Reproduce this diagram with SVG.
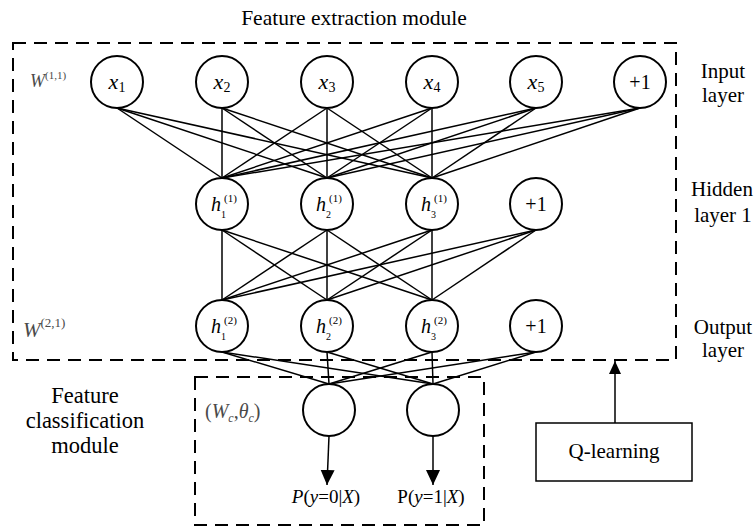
<svg xmlns="http://www.w3.org/2000/svg" width="756" height="527" viewBox="0 0 756 527" font-family="'Liberation Serif', 'DejaVu Serif', serif">
  <defs>
    <style>
      text { font-family: "Liberation Serif", "DejaVu Serif", serif; }
      .it { font-style: italic; }
      .w { fill: #4a4a4a; font-style: italic; }
      .gray { fill: #4a4a4a; }
      .node circle { fill: #fff; stroke: #000; stroke-width: 2; }
      .edges line { stroke: #000; stroke-width: 1.5; }
      .module { fill: none; stroke: #000; stroke-width: 2; stroke-dasharray: 13 8; }
      .layer-label { font-size: 21px; text-anchor: middle; }
      .side-label { font-size: 22.5px; text-anchor: middle; }
      .arrow { stroke: #000; stroke-width: 2; fill: none; }
    </style>
    <marker id="head" markerUnits="userSpaceOnUse" markerWidth="16" markerHeight="16" refX="15" refY="7" orient="auto">
      <path d="M0,0 L15,7 L0,14 z" fill="#000"/>
    </marker>
    <marker id="head-small" markerUnits="userSpaceOnUse" markerWidth="14" markerHeight="12" refX="13" refY="6" orient="auto">
      <path d="M0,0 L13,6 L0,12 z" fill="#000"/>
    </marker>
  </defs>

  <rect width="756" height="527" fill="#fff"/>

  <!-- module frames -->
  <rect id="feature-extraction-module" class="module" x="13" y="43" width="663" height="317"/>
  <rect id="feature-classification-module" class="module" x="195" y="377" width="289" height="148" stroke-dasharray="11 7"/>

  <!-- captions -->
  <text x="354" y="25" font-size="21.5" text-anchor="middle">Feature extraction module</text>
  <text class="layer-label" x="723" y="78">Input</text>
  <text class="layer-label" x="723" y="102">layer</text>
  <text class="layer-label" x="722" y="196">Hidden</text>
  <text class="layer-label" x="723" y="222">layer 1</text>
  <text class="layer-label" x="723" y="334">Output</text>
  <text class="layer-label" x="723" y="357">layer</text>
  <text class="side-label" x="85" y="403">Feature</text>
  <text class="side-label" x="85" y="428">classification</text>
  <text class="side-label" x="85" y="453">module</text>

  <!-- weight annotations -->
  <text x="30" y="87" font-size="18" class="w">W<tspan font-size="11" font-style="normal" dy="-8">(1,1)</tspan></text>
  <text x="23" y="337" font-size="21" class="w">W<tspan font-size="13" font-style="normal" dy="-10">(2,1)</tspan></text>
  <text x="205" y="418" font-size="20" class="gray">(<tspan class="it">W</tspan><tspan class="it" font-size="12" dy="4">c</tspan><tspan dy="-4">,</tspan><tspan class="it">θ</tspan><tspan class="it" font-size="12" dy="4">c</tspan><tspan dy="-4">)</tspan></text>

  <!-- connectors -->
  <g id="connectors" class="edges">
    <!-- input layer to hidden layer 1 -->
    <line x1="117" y1="108" x2="222" y2="178"/>
    <line x1="117" y1="108" x2="327" y2="178"/>
    <line x1="117" y1="108" x2="432" y2="178"/>
    <line x1="222" y1="108" x2="222" y2="178"/>
    <line x1="222" y1="108" x2="327" y2="178"/>
    <line x1="222" y1="108" x2="432" y2="178"/>
    <line x1="327" y1="108" x2="222" y2="178"/>
    <line x1="327" y1="108" x2="327" y2="178"/>
    <line x1="327" y1="108" x2="432" y2="178"/>
    <line x1="432" y1="108" x2="222" y2="178"/>
    <line x1="432" y1="108" x2="327" y2="178"/>
    <line x1="432" y1="108" x2="432" y2="178"/>
    <line x1="536" y1="108" x2="222" y2="178"/>
    <line x1="536" y1="108" x2="327" y2="178"/>
    <line x1="536" y1="108" x2="432" y2="178"/>
    <line x1="640" y1="108" x2="222" y2="178"/>
    <line x1="640" y1="108" x2="327" y2="178"/>
    <line x1="640" y1="108" x2="432" y2="178"/>
    <!-- hidden layer 1 to output layer -->
    <line x1="222" y1="230" x2="222" y2="300"/>
    <line x1="222" y1="230" x2="327" y2="300"/>
    <line x1="222" y1="230" x2="432" y2="300"/>
    <line x1="327" y1="230" x2="222" y2="300"/>
    <line x1="327" y1="230" x2="327" y2="300"/>
    <line x1="327" y1="230" x2="432" y2="300"/>
    <line x1="432" y1="230" x2="222" y2="300"/>
    <line x1="432" y1="230" x2="327" y2="300"/>
    <line x1="432" y1="230" x2="432" y2="300"/>
    <line x1="536" y1="230" x2="222" y2="300"/>
    <line x1="536" y1="230" x2="327" y2="300"/>
    <line x1="536" y1="230" x2="432" y2="300"/>
    <!-- output layer to classifier -->
    <line x1="222" y1="352" x2="329" y2="384"/>
    <line x1="222" y1="352" x2="433" y2="384"/>
    <line x1="327" y1="352" x2="329" y2="384"/>
    <line x1="327" y1="352" x2="433" y2="384"/>
    <line x1="432" y1="352" x2="329" y2="384"/>
    <line x1="432" y1="352" x2="433" y2="384"/>
    <line x1="536" y1="352" x2="329" y2="384"/>
    <line x1="536" y1="352" x2="433" y2="384"/>
    <!-- classifier outputs and feedback -->
    <line class="arrow" x1="329" y1="436" x2="327" y2="485" marker-end="url(#head)"/>
    <line class="arrow" x1="433" y1="436" x2="433" y2="485" marker-end="url(#head)"/>
    <line class="arrow" x1="615" y1="423" x2="615" y2="361" marker-end="url(#head-small)"/>
  </g>

  <!-- input layer -->
  <g id="x1" class="node"><circle cx="117" cy="82" r="26"/><text x="117" y="89" font-size="22" text-anchor="middle"><tspan class="it">x</tspan><tspan font-size="14" dy="3">1</tspan></text></g>
  <g id="x2" class="node"><circle cx="222" cy="82" r="26"/><text x="222" y="89" font-size="22" text-anchor="middle"><tspan class="it">x</tspan><tspan font-size="14" dy="3">2</tspan></text></g>
  <g id="x3" class="node"><circle cx="327" cy="82" r="26"/><text x="327" y="89" font-size="22" text-anchor="middle"><tspan class="it">x</tspan><tspan font-size="14" dy="3">3</tspan></text></g>
  <g id="x4" class="node"><circle cx="432" cy="82" r="26"/><text x="432" y="89" font-size="22" text-anchor="middle"><tspan class="it">x</tspan><tspan font-size="14" dy="3">4</tspan></text></g>
  <g id="x5" class="node"><circle cx="536" cy="82" r="26"/><text x="536" y="89" font-size="22" text-anchor="middle"><tspan class="it">x</tspan><tspan font-size="14" dy="3">5</tspan></text></g>
  <g id="bias-input" class="node"><circle cx="640" cy="82" r="26"/><text x="640" y="89" text-anchor="middle" font-size="20">+1</text></g>

  <!-- hidden layer 1 -->
  <g id="h1-1" class="node"><circle cx="222" cy="204" r="26"/><text x="211" y="211" class="it" font-size="20">h</text><text x="224" y="202" font-size="11">(1)</text><text x="221" y="218" font-size="10">1</text></g>
  <g id="h1-2" class="node"><circle cx="327" cy="204" r="26"/><text x="316" y="211" class="it" font-size="20">h</text><text x="329" y="202" font-size="11">(1)</text><text x="326" y="218" font-size="10">2</text></g>
  <g id="h1-3" class="node"><circle cx="432" cy="204" r="26"/><text x="421" y="211" class="it" font-size="20">h</text><text x="434" y="202" font-size="11">(1)</text><text x="431" y="218" font-size="10">3</text></g>
  <g id="bias-hidden" class="node"><circle cx="536" cy="204" r="26"/><text x="536" y="211" text-anchor="middle" font-size="20">+1</text></g>

  <!-- output layer -->
  <g id="h2-1" class="node"><circle cx="222" cy="326" r="26"/><text x="211" y="333" class="it" font-size="20">h</text><text x="224" y="324" font-size="11">(2)</text><text x="221" y="340" font-size="10">1</text></g>
  <g id="h2-2" class="node"><circle cx="327" cy="326" r="26"/><text x="316" y="333" class="it" font-size="20">h</text><text x="329" y="324" font-size="11">(2)</text><text x="326" y="340" font-size="10">2</text></g>
  <g id="h2-3" class="node"><circle cx="432" cy="326" r="26"/><text x="421" y="333" class="it" font-size="20">h</text><text x="434" y="324" font-size="11">(2)</text><text x="431" y="340" font-size="10">3</text></g>
  <g id="bias-output" class="node"><circle cx="536" cy="326" r="26"/><text x="536" y="333" text-anchor="middle" font-size="20">+1</text></g>

  <!-- classifier units -->
  <g id="class-0" class="node"><circle cx="329" cy="410" r="26"/><text x="326" y="503" font-size="19" text-anchor="middle"><tspan class="it">P</tspan>(<tspan class="it">y</tspan>=0|<tspan class="it">X</tspan>)</text></g>
  <g id="class-1" class="node"><circle cx="433" cy="410" r="26"/><text x="431" y="503" font-size="19" text-anchor="middle">P(<tspan class="it">y</tspan>=1|<tspan class="it">X</tspan>)</text></g>

  <!-- reinforcement learner -->
  <g id="q-learning">
    <rect x="536" y="423" width="156" height="58" fill="#fff" stroke="#000" stroke-width="1.5"/>
    <text x="614" y="458" font-size="21" text-anchor="middle">Q-learning</text>
  </g>
</svg>
